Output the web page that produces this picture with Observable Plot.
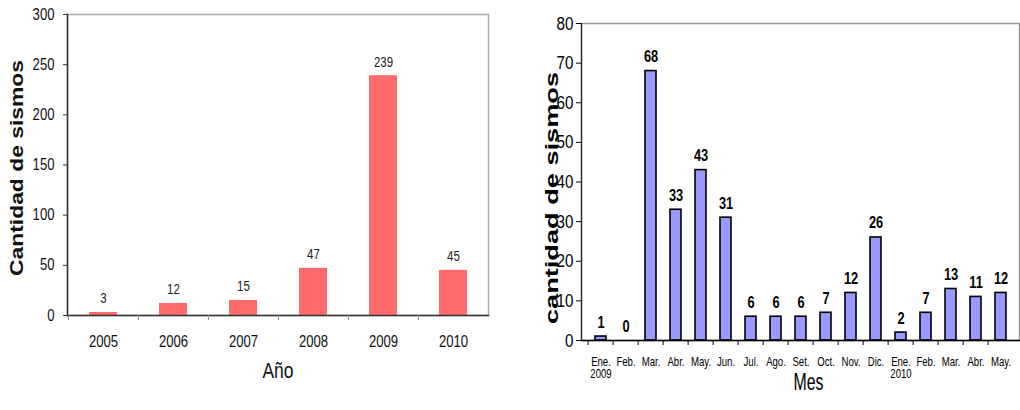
<!DOCTYPE html>
<html><head><meta charset="utf-8">
<script src="https://cdn.jsdelivr.net/npm/d3@7"></script>
<script src="https://cdn.jsdelivr.net/npm/@observablehq/plot@0.6"></script>
<style>
body{margin:0;background:#fff;}
#wrap{display:flex;width:1020px;height:410px;overflow:hidden;}
</style></head><body><div id="wrap"></div>
<script>
// ---- data ----
const years = ["2005","2006","2007","2008","2009","2010"];
const yearCounts = [3, 12, 15, 47, 239, 45];
const yTicksLeft = [0, 50, 100, 150, 200, 250, 300];

const monthKeys = ["2009-01","2009-02","2009-03","2009-04","2009-05","2009-06","2009-07","2009-08","2009-09","2009-10","2009-11","2009-12","2010-01","2010-02","2010-03","2010-04","2010-05"];
const monthLabels = ["Ene.\n2009","Feb.","Mar.","Abr.","May.","Jun.","Jul.","Ago.","Set.","Oct.","Nov.","Dic.","Ene.\n2010","Feb.","Mar.","Abr.","May."];
const monthCounts = [1, 0, 68, 33, 43, 31, 6, 6, 6, 7, 12, 26, 2, 7, 13, 11, 12];
const yTicksRight = [0, 10, 20, 30, 40, 50, 60, 70, 80];

const yearData = years.map((y, i) => ({year: y, count: yearCounts[i]}));
const monthData = monthKeys.map((k, i) => ({key: k, count: monthCounts[i]}));
const monthLabelOf = new Map(monthKeys.map((k, i) => [k, monthLabels[i]]));

const FONT = "'Liberation Sans',Arial,sans-serif";

// ---- left chart ----
const L = {w: 510, h: 410, ml: 67, mr: 22, mt: 14, mb: 95};
const stepL = (L.w - L.ml - L.mr) / years.length;
const left = Plot.plot({
  width: L.w, height: L.h,
  marginLeft: L.ml, marginRight: L.mr, marginTop: L.mt, marginBottom: L.mb,
  style: {fontFamily: FONT, background: "white", color: "#111", overflow: "visible"},
  x: {type: "band", domain: years, paddingInner: 0.6, paddingOuter: 0.3},
  y: {domain: [0, 300]},
  marks: [
    Plot.frame({stroke: "#aaa", strokeWidth: 1.5}),
    Plot.barY(yearData, {x: "year", y: "count", fill: "#ff6a6a"}),
    Plot.frame({anchor: "left", stroke: "#333", strokeWidth: 1.5}),
    Plot.frame({anchor: "bottom", stroke: "#333", strokeWidth: 1.5}),
    Plot.axisY({ticks: yTicksLeft, tickSize: 4, tickPadding: 9, fontSize: 16, label: null, stroke: "#333"}),
    Plot.axisX({tickSize: 5, tickFormat: () => "", dx: -stepL / 2, label: null, stroke: "#888"}),
    Plot.axisX({tickSize: 0, tickPadding: 20, fontSize: 16, label: null}),
    Plot.text(yearData, {x: "year", y: "count", text: d => String(d.count), dy: -9, lineAnchor: "bottom", fontSize: 14, fill: "#222"}),
    Plot.text(["Cantidad de sismos"], {frameAnchor: "left", rotate: -90, dx: -50, dy: 3, fontSize: 18, fontWeight: "bold", fill: "#111"}),
    Plot.text(["Año"], {frameAnchor: "bottom", dy: 62, fontSize: 22, fill: "#111"})
  ]
});

// ---- right chart ----
const R = {w: 510, h: 410, ml: 71, mr: 1, mt: 23, mb: 70};
const stepR = (R.w - R.ml - R.mr) / monthKeys.length;
const right = Plot.plot({
  width: R.w, height: R.h,
  marginLeft: R.ml, marginRight: R.mr, marginTop: R.mt, marginBottom: R.mb,
  style: {fontFamily: FONT, background: "white", color: "#000", overflow: "visible"},
  x: {type: "band", domain: monthKeys, paddingInner: 0.57, paddingOuter: 0.285},
  y: {domain: [0, 80]},
  marks: [
    Plot.frame({stroke: "#999", strokeWidth: 1.5}),
    Plot.barY(monthData, {x: "key", y: "count", fill: "#9999ff", stroke: "#000", strokeWidth: 1.6}),
    Plot.frame({anchor: "left", stroke: "#222", strokeWidth: 1.2}),
    Plot.frame({anchor: "bottom", stroke: "#000", strokeWidth: 1.5}),
    Plot.axisY({ticks: yTicksRight, tickSize: 5, tickPadding: 3, fontSize: 19, label: null}),
    Plot.axisX({tickSize: 5, tickFormat: () => "", dx: -stepR / 2, label: null}),
    Plot.axisX({tickSize: 0, tickPadding: 17, fontSize: 12, label: null, tickFormat: k => monthLabelOf.get(k)}),
    Plot.text(monthData, {x: "key", y: "count", text: d => String(d.count), dy: -9, lineAnchor: "bottom", fontSize: 16, fontWeight: "bold"}),
    Plot.text(["cantidad de sismos"], {frameAnchor: "left", rotate: -90, dx: -30, dy: 16, fontSize: 19, fontWeight: "bold"}),
    Plot.text(["Mes"], {frameAnchor: "bottom", dx: 8, dy: 49, fontSize: 24})
  ]
});

const wrap = document.getElementById("wrap");
wrap.appendChild(left);
wrap.appendChild(right);

// stretch titles to the lengths seen in the reference (centred explicitly)
const stretched = new Set();
function stretch(svg, content, len) {
  svg.querySelectorAll("text").forEach(t => {
    if (t.textContent === content) {
      t.setAttribute("text-anchor", "start");
      t.setAttribute("x", -len / 2);
      t.setAttribute("textLength", len);
      t.setAttribute("lengthAdjust", "spacingAndGlyphs");
      stretched.add(t);
    }
  });
}
stretch(left, "Cantidad de sismos", 216);
stretch(left, "Año", 31);
stretch(right, "cantidad de sismos", 252);
stretch(right, "Mes", 30);

// narrow all other texts horizontally (the reference uses a condensed face)
function narrow(svg, k) {
  svg.querySelectorAll("text").forEach(t => {
    if (stretched.has(t) || !t.textContent) return;
    const tr = t.getAttribute("transform");
    if (tr) {
      t.setAttribute("transform", tr + ` scale(${k},1)`);
    } else {
      const x = +(t.getAttribute("x") || 0), y = +(t.getAttribute("y") || 0);
      t.removeAttribute("x"); t.removeAttribute("y");
      t.setAttribute("transform", `translate(${x},${y}) scale(${k},1)`);
    }
  });
}
narrow(left, 0.82);
narrow(right, 0.8);
</script></body></html>
